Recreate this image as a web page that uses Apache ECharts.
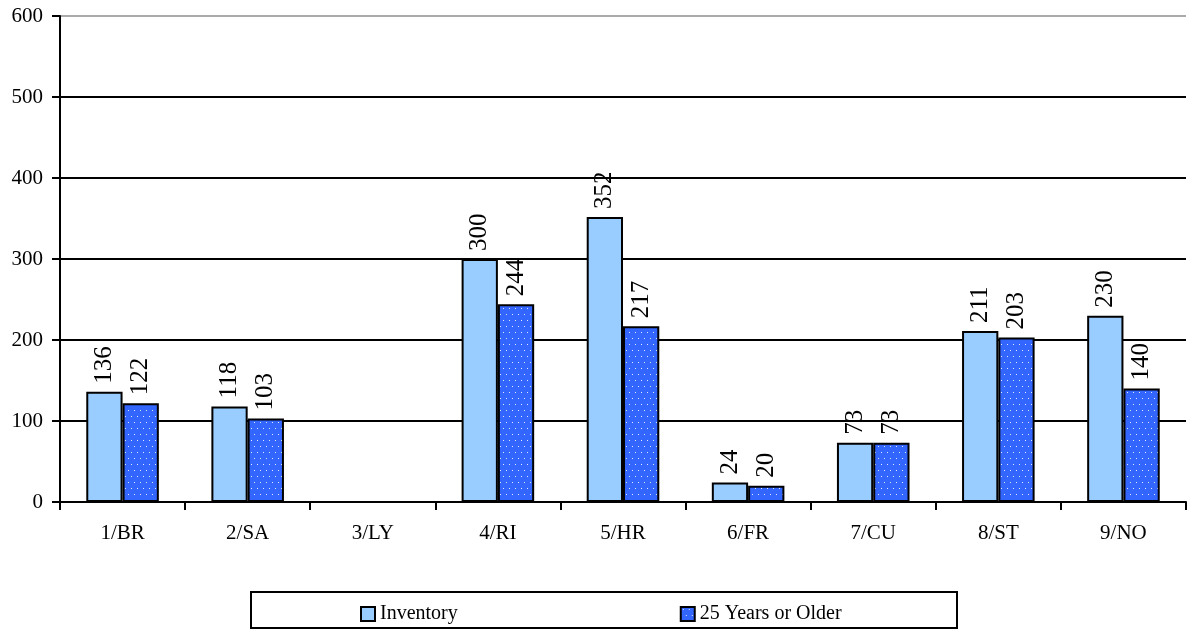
<!DOCTYPE html>
<html>
<head>
<meta charset="utf-8">
<script src="https://cdn.jsdelivr.net/npm/echarts@6/dist/echarts.min.js"></script>
<style>
html,body{margin:0;padding:0;background:#fff;}
#main{width:1188px;height:631px;}
</style>
</head>
<body>
<div id="main"></div>
<script>
const categories = ['1/BR','2/SA','3/LY','4/RI','5/HR','6/FR','7/CU','8/ST','9/NO'];
const inventory = [136, 118, null, 300, 352, 24, 73, 211, 230];
const older = [122, 103, null, 244, 217, 20, 73, 203, 140];
const yTicks = [0, 100, 200, 300, 400, 500, 600];

// dotted pattern for second series
const pc = document.createElement('canvas');
pc.width = 6; pc.height = 12;
const pctx = pc.getContext('2d');
pctx.fillStyle = '#3366FF';
pctx.fillRect(0, 0, 6, 12);
pctx.fillStyle = 'rgba(255,255,255,0.85)';
pctx.fillRect(2, 2, 1, 1);
pctx.fillRect(5, 8, 1, 1);

const FONT = '"Liberation Serif", "Times New Roman", serif';
const chart = echarts.init(document.getElementById('main'), null, {renderer: 'canvas'});

const labelCfg = {
  show: true,
  position: 'top',
  rotate: 90,
  align: 'left',
  verticalAlign: 'middle',
  distance: 8,
  fontFamily: FONT,
  fontSize: 25,
  color: '#000'
};

chart.setOption({
  animation: false,
  backgroundColor: '#fff',
  grid: {left: 60, right: 2, top: 16, bottom: 129, containLabel: false},
  legend: {
    left: 355,
    top: 599,
    itemWidth: 14,
    itemHeight: 14,
    itemGap: 222,
    icon: 'rect',
    textStyle: {fontFamily: FONT, fontSize: 20, color: '#000'},
    data: [{name: 'Inventory'}, {name: '25 Years or Older'}]
  },
  graphic: [{
    type: 'rect',
    shape: {x: 251, y: 592, width: 706, height: 36},
    style: {fill: 'none', stroke: '#000', lineWidth: 2},
    z: 0
  }],
  xAxis: {
    type: 'category',
    data: categories,
    boundaryGap: true,
    axisLine: {lineStyle: {color: '#000', width: 2}},
    axisTick: {show: true, length: 8, lineStyle: {color: '#000', width: 2}},
    axisLabel: {fontFamily: FONT, fontSize: 21, color: '#000', margin: 21}
  },
  yAxis: {
    type: 'value',
    min: 0,
    max: 600,
    interval: 100,
    axisLine: {show: true, lineStyle: {color: '#000', width: 2}},
    axisTick: {show: true, length: 8, lineStyle: {color: '#000', width: 2}},
    axisLabel: {fontFamily: FONT, fontSize: 21, color: '#000', margin: 17,
      formatter: v => yTicks.includes(v) ? String(v) : ''},
    splitLine: {show: true, lineStyle: {color: ['#000','#000','#000','#000','#000','#000','#aaa'], width: 2}}
  },
  series: [
    {
      name: 'Inventory',
      type: 'bar',
      data: inventory,
      barCategoryGap: '42%',
      barGap: '0%',
      itemStyle: {color: '#99CCFF', borderColor: '#000', borderWidth: 2},
      label: labelCfg
    },
    {
      name: '25 Years or Older',
      type: 'bar',
      data: older,
      itemStyle: {color: {image: pc, repeat: 'repeat'}, borderColor: '#000', borderWidth: 2},
      label: labelCfg
    }
  ]
});
</script>
</body>
</html>
